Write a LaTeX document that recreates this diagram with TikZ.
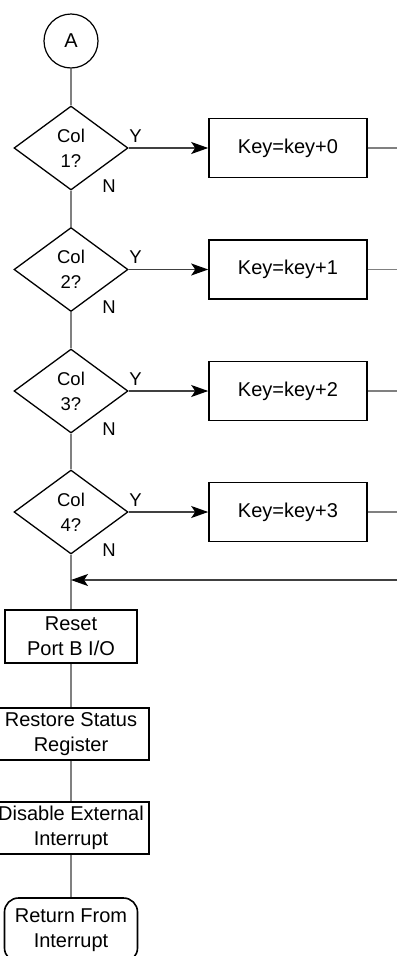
\documentclass[tikz,border=0pt]{standalone}
\usepackage{fontspec}
\setmainfont{Liberation Sans}
\usetikzlibrary{shapes.geometric,arrows.meta}
\definecolor{linegray}{gray}{0.5}
\definecolor{arrowgray}{gray}{0.25}
\tikzset{
	boxtext/.style={font=\fontsize{20}{25}\selectfont},
	stepbox/.style={draw,line width=1.6pt,inner sep=0pt,align=center,boxtext,minimum width=156pt,minimum height=52pt},
	keybox/.style={stepbox,minimum width=158pt,minimum height=59pt},
	decision/.style={draw,diamond,aspect=1.36,line width=1.3pt,inner sep=0pt,align=center,minimum width=114pt,minimum height=84pt,font=\fontsize{18.5}{25}\selectfont},
	lbl/.style={inner sep=0pt,font=\fontsize{18.5}{22}\selectfont},
	link/.style={draw=linegray,line width=1.5pt},
	arr/.style={draw=arrowgray,line width=1.3pt,-{Stealth[length=17pt,width=12pt,inset=4pt,black]}}
}

\begin{document}
\begin{tikzpicture}[x=1pt,y=-1pt]
	\path[use as bounding box,clip] (0,0) rectangle (397,956);
	\node[draw,circle,line width=1.2pt,minimum size=54pt,inner sep=0pt,boxtext] (A) at (71,41) {A};
	\foreach \i/\y in {0/148,1/269.5,2/391,3/512} {
		\pgfmathtruncatemacro{\n}{\i+1}
		\node[decision] (d\i) at (71,\y) {Col\\\n?};
		\node[keybox] (k\i) at (288,\y) {Key=key+\i};
		\coordinate (e\i) at (397,\y);
		\node[lbl] (y\i) at ([xshift=7pt,yshift=12pt]d\i.east) {Y};
		\node[lbl] (n\i) at ([xshift=38pt,yshift=5pt]d\i.south) {N};
		\draw[arr] (d\i.east) -- (k\i.west);
		\draw[link] (k\i.east) -- (e\i);}
	\node[stepbox,minimum width=132pt,minimum height=53pt] (reset) at (71,636.5) {Reset\\Port B I/O};
	\node[stepbox] (restore) at (71,734) {Restore Status\\Register};
	\node[stepbox] (disable) at (71,828) {Disable External\\Interrupt};
	\node[stepbox,rounded corners=14pt,minimum width=133pt,minimum height=64pt] (ret) at (71,930) {Return From\\Interrupt};
	\foreach \a/\b in {A/d0,d0/d1,d1/d2,d2/d3,d3/reset,reset/restore,restore/disable,disable/ret}
		\draw[link] (\a.south) -- (\b.north);
	\coordinate (back) at (397,580);
	\draw[arr] (back) -- (back -| d3.south);
\end{tikzpicture}
\end{document}
